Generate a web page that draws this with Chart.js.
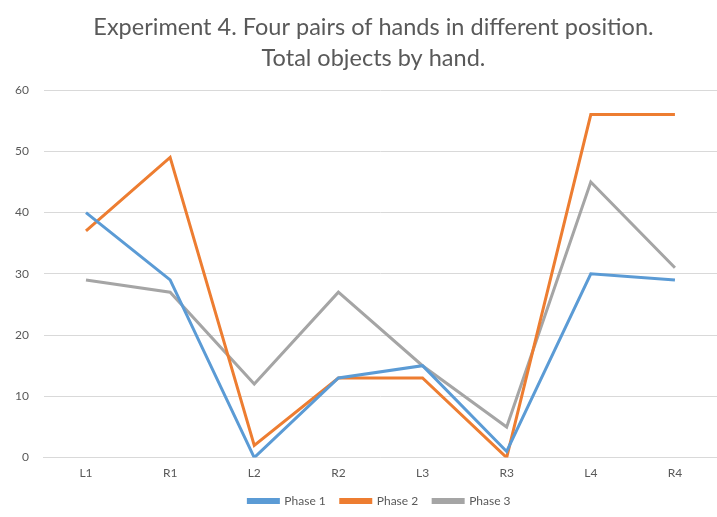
<!DOCTYPE html>
<html>
<head>
<meta charset="utf-8">
<script src="https://cdn.jsdelivr.net/npm/chart.js@4"></script>
<style>
html,body{margin:0;padding:0;background:#fff;}
#wrap{width:717px;height:517px;}
</style>
</head>
<body>
<div id="wrap"><canvas id="c" width="717" height="517"></canvas></div>
<script>
const categories = ["L1","R1","L2","R2","L3","R3","L4","R4"];
const phase1 = [40, 29, 0, 13, 15, 1, 30, 29];
const phase2 = [37, 49, 2, 13, 13, 0, 56, 56];
const phase3 = [29, 27, 12, 27, 15, 5, 45, 31];
const seriesNames = ["Phase 1","Phase 2","Phase 3"];
const titleLines = ["Experiment 4. Four pairs of hands in different position.","Total objects by hand."];

const colors = ["#5B9BD5","#ED7D31","#A5A5A5"];
const data = [phase1, phase2, phase3];

const shiftBlocks = {
  id: 'shiftBlocks',
  afterLayout(chart) {
    if (chart.titleBlock) { chart.titleBlock.left -= 14; }
    if (chart.legend) { chart.legend.left -= 2; }
  }
};

new Chart(document.getElementById('c'), {
  type: 'line',
  plugins: [shiftBlocks],
  data: {
    labels: categories,
    datasets: data.map((d,i)=>({
      label: seriesNames[i],
      data: d,
      borderColor: colors[i],
      backgroundColor: colors[i],
      borderWidth: 3,
      pointRadius: 0,
      tension: 0,
      fill: false
    }))
  },
  options: {
    responsive: false,
    animation: false,
    layout: {padding: {left: 0, right: 0, top: 4, bottom: 0}},
    plugins: {
      title: {
        display: true,
        fullSize: false,
        text: titleLines,
        color: '#595959',
        font: {family: 'Lato', size: 23.5, weight: 'normal', lineHeight: 1.32},
        padding: {top: 8, bottom: 16}
      },
      legend: {
        position: 'bottom',
        fullSize: false,
        labels: {
          color: '#595959',
          font: {family: 'Lato', size: 12},
          boxWidth: 30,
          boxHeight: 3,
          padding: 15
        }
      },
      tooltip: {enabled: false}
    },
    scales: {
      x: {
        offset: true,
        grid: {display: false},
        border: {display: true, color: '#d9d9d9'},
        ticks: {color: '#595959', font: {family: 'Lato', size: 12}, padding: 0}
      },
      y: {
        min: 0, max: 60,
        ticks: {stepSize: 10, color: '#595959', font: {family: 'Lato', size: 12}, padding: 15},
        grid: {color: '#d9d9d9', drawTicks: false},
        border: {display: false}
      }
    }
  }
});
</script>
</body>
</html>
